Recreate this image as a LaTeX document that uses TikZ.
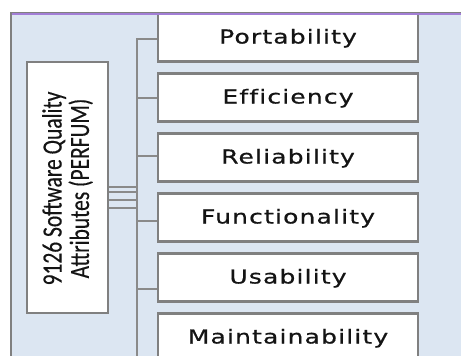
\documentclass[tikz,border=0pt]{standalone}
\usepackage{fontspec}
\newfontfamily\boxfont[FakeStretch=1.3,LetterSpace=6,FakeBold=0.7,Ligatures=NoCommon]{DejaVu Sans}
\newfontfamily\leftfont[FakeStretch=0.77,FakeBold=0.3]{Carlito}
\definecolor{panelblue}{HTML}{DCE6F2}
\definecolor{linegray}{HTML}{8A8A8A}
\definecolor{boxgray}{HTML}{808080}
\definecolor{toppurple}{HTML}{A27ED6}
\definecolor{txt}{HTML}{141414}
\tikzset{
  attrbox/.style={draw=boxgray, line width=2.3bp, fill=white, minimum width=260bp,
    minimum height=48bp, inner sep=0pt, text=txt, text height=12bp, text depth=0bp,
    font=\boxfont\fontsize{19.3}{20}\selectfont},
  rootbox/.style={draw=boxgray, line width=2.3bp, fill=white, minimum width=81bp,
    minimum height=251bp, inner sep=0pt},
  conn/.style={draw=linegray, line width=2bp},
}
\begin{document}
\begin{tikzpicture}[x=1bp, y=-1bp]
\useasboundingbox (0,0) rectangle (461,355);
\fill[white] (0,0) rectangle (461,355);
\begin{scope}
\clip (0,0) rectangle (461,355);
\fill[panelblue] (11,12) rectangle (470,370);
% root box
\node[rootbox] (root) at (67.5,187.5) {};
\node[rotate=90, align=center, text=txt, font=\leftfont\fontsize{28}{27.5}\selectfont]
  (roottext) at (67.5,188.5) {9126 Software Quality\\Attributes (PERFUM)};
% attribute boxes
\node[attrbox] (port) at (288,37.5) {Portability};
\node[attrbox] (effi) at (288,97.5) {Efficiency};
\node[attrbox] (reli) at (288,157.5) {Reliability};
\node[attrbox] (func) at (288,217.5) {Functionality};
\node[attrbox] (usab) at (288,277.5) {Usability};
\node[attrbox] (main) at (288,337.5) {Maintainability};
% bus
\coordinate (bustop) at (137,39);
\coordinate (busbot) at (137,360);
\draw[conn] (busbot) -- (bustop) -- (bustop -| port.west);
\coordinate (b2) at (137,98);
\coordinate (b3) at (137,156);
\coordinate (b4) at (137,221);
\coordinate (b5) at (137,289);
\draw[conn] (b2) -- (b2 -| effi.west);
\draw[conn] (b3) -- (b3 -| reli.west);
\draw[conn] (b4) -- (b4 -| func.west);
\draw[conn] (b5) -- (b5 -| usab.west);
% lines from root to bus
\foreach \yy in {187,192,200,208}{
  \coordinate (r\yy) at (137,\yy);
  \draw[conn, line width=1.6bp] (r\yy -| root.east) -- (r\yy);
}
% panel border
\draw[boxgray, line width=1.5bp] (11,370) -- (11,12.3) -- (470,12.3);
\draw[toppurple, line width=1.8bp] (11.8,14.2) -- (470,14.2);
\end{scope}
\end{tikzpicture}
\end{document}
